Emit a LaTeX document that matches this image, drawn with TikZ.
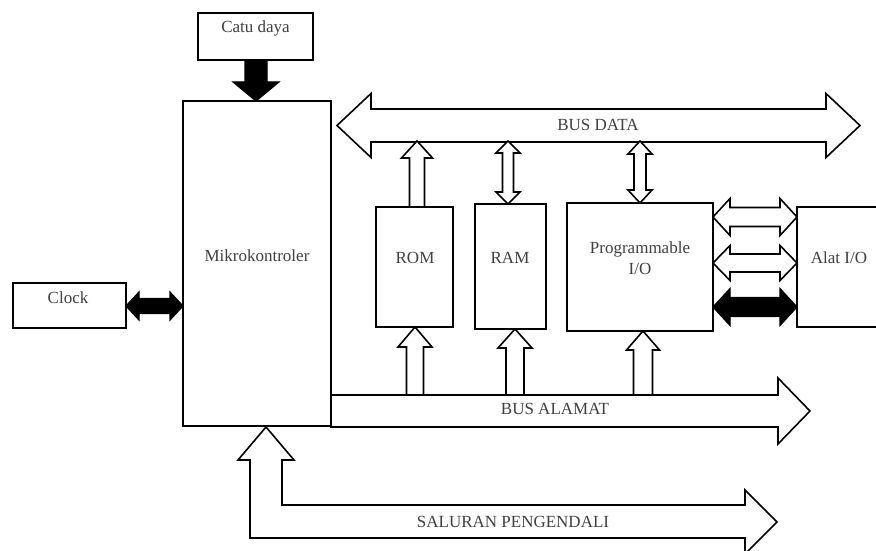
\documentclass[tikz,border=0pt]{standalone}
\usepackage{fontspec}
\setmainfont{Liberation Serif}
% horizontal double block arrow: x1, x2, y, shaft half, head half, head length, style
\newcommand\hdblarrow[7]{%
  \draw[#7] (#1,#3) -- (#1+#6,#3-#5) -- (#1+#6,#3-#4) -- (#2-#6,#3-#4) -- (#2-#6,#3-#5)
    -- (#2,#3) -- (#2-#6,#3+#5) -- (#2-#6,#3+#4) -- (#1+#6,#3+#4) -- (#1+#6,#3+#5) -- cycle;}
% vertical double block arrow: x, ytop, ybottom, shaft half, head half, head length
\newcommand\vdblarrow[6]{%
  \draw[blockarrow] (#1,#2) -- (#1+#5,#2+#6) -- (#1+#4,#2+#6) -- (#1+#4,#3-#6) -- (#1+#5,#3-#6)
    -- (#1,#3) -- (#1-#5,#3-#6) -- (#1-#4,#3-#6) -- (#1-#4,#2+#6) -- (#1-#5,#2+#6) -- cycle;}
% vertical single block arrow pointing up: x, ytip, ybottom, shaft half, head half, head length
\newcommand\vuparrowblk[6]{%
  \draw[blockarrow] (#1,#2) -- (#1+#5,#2+#6) -- (#1+#4,#2+#6) -- (#1+#4,#3)
    -- (#1-#4,#3) -- (#1-#4,#2+#6) -- (#1-#5,#2+#6) -- cycle;}
\begin{document}
\begin{tikzpicture}[x=1pt,y=-1pt,
  box/.style={draw, line width=2.2pt, inner sep=0pt},
  lbl/.style={text=black!75, font=\fontsize{17}{21}\selectfont, inner sep=0pt, align=center},
  blockarrow/.style={draw, line width=1.6pt, fill=white, line join=miter},
  blackarrow/.style={draw, line width=1.2pt, fill=black, line join=miter}]
\clip (0,0) rectangle (876,551);
\fill[white] (0,0) rectangle (876,551);

% ---- connectors (block arrows) ----
% power supply to microcontroller
\draw[blackarrow] (245,60) -- (267,60) -- (267,82) -- (279,82) -- (256,101) -- (233,82) -- (245,82) -- cycle;
% clock <-> microcontroller
\hdblarrow{126}{183}{306}{7.5}{14}{13}{blackarrow}
% BUS DATA
\hdblarrow{337}{860}{125.5}{16.5}{32}{34}{blockarrow}
% ROM -> bus data
\vuparrowblk{417}{141}{207}{7.5}{15.5}{17}
% RAM <-> bus data
\vdblarrow{508}{141}{204}{5.5}{12}{12}
% PIO <-> bus data
\vdblarrow{640}{141}{203}{6}{12}{13}
% PIO <-> Alat I/O
\hdblarrow{713}{797}{217}{9.5}{18.5}{17}{blockarrow}
\hdblarrow{713}{797}{263}{9}{17.5}{17}{blockarrow}
\hdblarrow{713}{797}{307}{9.5}{18.5}{17}{blackarrow}
% BUS ALAMAT
\draw[blockarrow] (331,395) -- (778,395) -- (778,378) -- (810,411) -- (778,444) -- (778,427) -- (331,427) -- cycle;
% bus alamat -> ROM, RAM, PIO
\vuparrowblk{415}{327}{395}{8.5}{17}{20}
\vuparrowblk{515}{329}{395}{9}{17}{19}
\vuparrowblk{643}{331}{395}{9.5}{16.5}{19}
% SALURAN PENGENDALI
\draw[blockarrow] (266,427) -- (294,460) -- (282,460) -- (282,505) -- (745,505) -- (745,490)
  -- (777,522) -- (745,554) -- (745,538) -- (250,538) -- (250,460) -- (238,460) -- cycle;

% ---- boxes ----
\node[box, minimum width=115pt, minimum height=47pt] (catu) at (255.5,36.5) {};
\node[box, minimum width=148pt, minimum height=325pt] (mk) at (257,263.5) {};
\node[box, minimum width=113pt, minimum height=45pt] (clock) at (69.5,305.5) {};
\node[box, minimum width=77pt, minimum height=120pt] (rom) at (414.5,267) {};
\node[box, minimum width=71pt, minimum height=125pt] (ram) at (510.5,266.5) {};
\node[box, minimum width=146pt, minimum height=128pt] (pio) at (640,267) {};
\node[box, minimum width=88pt, minimum height=120pt] (alat) at (841,267) {};

% ---- texts ----
\node[lbl] (catut) at (255.5,28) {Catu daya};
\node[lbl] (mkt) at (257,256) {Mikrokontroler};
\node[lbl] (clockt) at (68,298) {Clock};
\node[lbl] (romt) at (415,258) {ROM};
\node[lbl] (ramt) at (510,258) {RAM};
\node[lbl] (piot) at (640,258) {Programmable\\I/O};
\node[lbl] (alatt) at (839,258) {Alat I/O};
\node[lbl] (busdatat) at (598,124.5) {BUS DATA};
\node[lbl] (busalamatt) at (555,409) {BUS ALAMAT};
\node[lbl] (salurant) at (513,522) {SALURAN PENGENDALI};
\end{tikzpicture}
\end{document}
